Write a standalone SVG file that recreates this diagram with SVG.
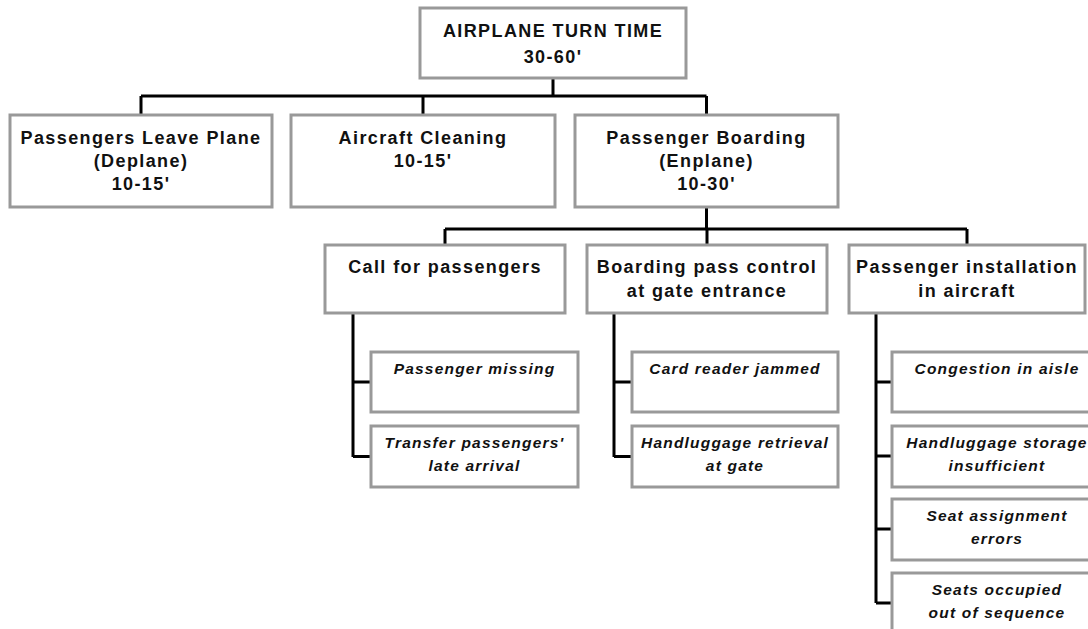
<svg xmlns="http://www.w3.org/2000/svg" width="1088" height="629" viewBox="0 0 1088 629">
<style>
.box{fill:#fff;stroke:#999;stroke-width:3}
.h{font-family:"Liberation Sans",Arial,sans-serif;font-weight:bold;font-size:18px;letter-spacing:1.4px;fill:#111;text-anchor:middle}
.i{font-family:"Liberation Sans",Arial,sans-serif;font-weight:bold;font-style:italic;font-size:15.5px;letter-spacing:1.2px;fill:#111;text-anchor:middle}
.c{fill:none;stroke:#000;stroke-width:3}
</style>
<rect width="1088" height="629" fill="#fff"/>
<g id="connectors">
<path class="c" d="M553 78V96M141 96H706.5M141 96V115M423 96V115M706.5 96V115"/>
<path class="c" d="M706.5 207V229M445 229H967M445 229V245M707 229V245M967 229V245"/>
<path class="c" d="M353 313V457M353 382H371M353 456.5H371"/>
<path class="c" d="M614 313V457M614 382H632M614 456.5H632"/>
<path class="c" d="M876 313V603M876 382H892M876 456H892M876 529H892M876 603H892"/>
</g>
<g id="root"><rect class="box" x="420" y="8" width="266" height="70"/>
<text class="h" x="553" y="37">AIRPLANE TURN TIME</text><text class="h" x="553" y="63">30-60'</text></g>
<g id="deplane"><rect class="box" x="10" y="115" width="262" height="92"/>
<text class="h" x="141" y="144">Passengers Leave Plane</text><text class="h" x="141" y="167">(Deplane)</text><text class="h" x="141" y="190">10-15'</text></g>
<g id="cleaning"><rect class="box" x="291" y="115" width="264" height="92"/>
<text class="h" x="423" y="144">Aircraft Cleaning</text><text class="h" x="423" y="167">10-15'</text></g>
<g id="boarding"><rect class="box" x="575" y="115" width="263" height="92"/>
<text class="h" x="706.5" y="144">Passenger Boarding</text><text class="h" x="706.5" y="167">(Enplane)</text><text class="h" x="706.5" y="190">10-30'</text></g>
<g id="call"><rect class="box" x="325" y="245" width="240" height="68"/>
<text class="h" x="445" y="273">Call for passengers</text></g>
<g id="passcontrol"><rect class="box" x="587" y="245" width="240" height="68"/>
<text class="h" x="707" y="273">Boarding pass control</text><text class="h" x="707" y="297">at gate entrance</text></g>
<g id="installation"><rect class="box" x="849" y="245" width="236" height="68"/>
<text class="h" x="967" y="273">Passenger installation</text><text class="h" x="967" y="297">in aircraft</text></g>
<g id="missing"><rect class="box" x="371" y="352" width="207" height="60"/>
<text class="i" x="474.5" y="374">Passenger missing</text></g>
<g id="transfer"><rect class="box" x="371" y="426" width="207" height="61"/>
<text class="i" x="474.5" y="448">Transfer passengers'</text><text class="i" x="474.5" y="471">late arrival</text></g>
<g id="cardreader"><rect class="box" x="632" y="352" width="206" height="60"/>
<text class="i" x="735" y="374">Card reader jammed</text></g>
<g id="retrieval"><rect class="box" x="632" y="426" width="206" height="61"/>
<text class="i" x="735" y="448">Handluggage retrieval</text><text class="i" x="735" y="471">at gate</text></g>
<g id="congestion"><rect class="box" x="892" y="352" width="210" height="60"/>
<text class="i" x="997" y="374">Congestion in aisle</text></g>
<g id="storage"><rect class="box" x="892" y="426" width="210" height="61"/>
<text class="i" x="997" y="448">Handluggage storage</text><text class="i" x="997" y="471">insufficient</text></g>
<g id="seaterrors"><rect class="box" x="892" y="499" width="210" height="61"/>
<text class="i" x="997" y="521">Seat assignment</text><text class="i" x="997" y="544">errors</text></g>
<g id="sequence"><rect class="box" x="892" y="573" width="210" height="61"/>
<text class="i" x="997" y="595">Seats occupied</text><text class="i" x="997" y="618">out of sequence</text></g>
</svg>
